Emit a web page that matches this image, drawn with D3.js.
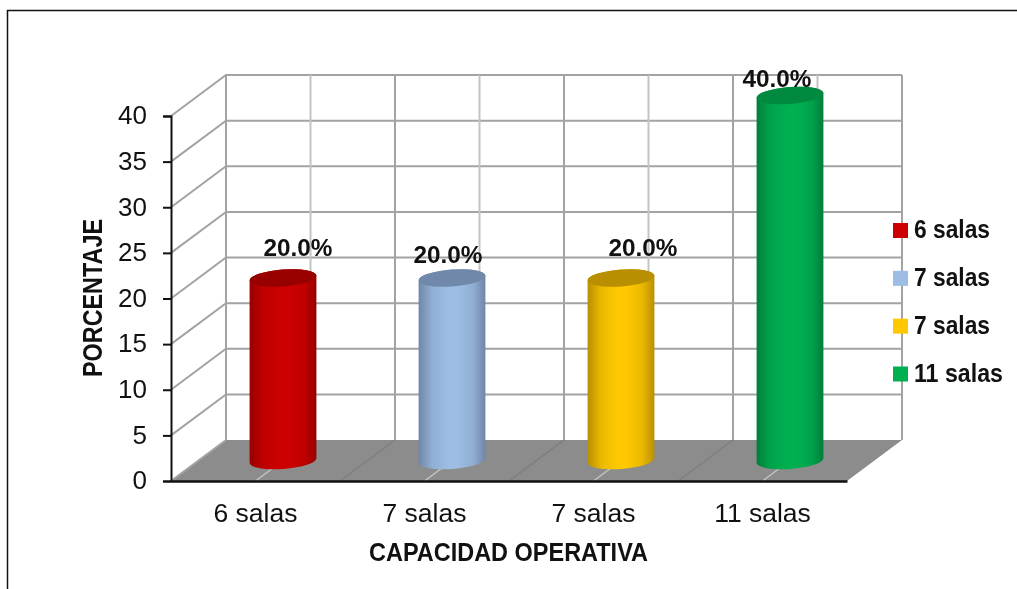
<!DOCTYPE html>
<html>
<head>
<meta charset="utf-8">
<script src="https://cdn.jsdelivr.net/npm/d3@7"></script>
<style>
html,body{margin:0;padding:0;background:#fff;overflow:hidden}
svg{display:block;filter:blur(0.35px)}
text{font-family:"Liberation Sans",Arial,sans-serif;fill:#111}
</style>
</head>
<body>
<svg id="chart" width="1017" height="589"></svg>
<script>
const categories = ["6 salas", "7 salas", "7 salas", "11 salas"];
const values = [20, 20, 20, 40];
const dataLabels = ["20.0%", "20.0%", "20.0%", "40.0%"];
const yTicks = [0, 5, 10, 15, 20, 25, 30, 35, 40];
const baseColors = ["#cc0000", "#9dbde4", "#ffc800", "#00b050"];
const edgeColors = ["#990000", "#6f87a8", "#b88f00", "#007f3a"];
const topColors = ["#980000", "#7088a9", "#b88f00", "#008a40"];
const xTitle = "CAPACIDAD OPERATIVA";
const yTitle = "PORCENTAJE";

const svg = d3.select("#chart");
const ids = categories.map((_, i) => i);
const x = d3.scaleBand().domain(ids).range([171, 847]);
const y = d3.scaleLinear().domain([0, 40]).range([481, 116]);
const depthX = d3.scaleLinear().domain([0, 1]).range([0, 55]);
const depthY = d3.scaleLinear().domain([0, 1]).range([0, -41]);

const gridDark = "#a3a3a3", gridLight = "#c4c4c4";
const g = svg.append("g");

// frame
g.append("path").attr("d", "M7.5,589V10.5H1017").attr("fill", "none").attr("stroke", "#111").attr("stroke-width", 1.5);

// floor
const x0 = x.range()[0], x1 = x.range()[1], dx = depthX(1), dy = depthY(1);
g.append("polygon")
  .attr("points", [[x0, y(0)], [x1, y(0)], [x1 + dx, y(0) + dy], [x0 + dx, y(0) + dy]].join(" "))
  .attr("fill", "#8c8c8c");

// back wall + side wall horizontal grid
g.selectAll("path.h").data(yTicks).join("path").attr("class", "h")
  .attr("d", d => `M${x0},${y(d)}L${x0 + dx},${y(d) + dy}` + (d === 0 ? "" : `L${x1 + dx},${y(d) + dy}`))
  .attr("fill", "none").attr("stroke", gridDark).attr("stroke-width", 2);

// verticals on back wall and floor lines
const bounds = ids.map(i => x(i)).concat([x1]);
g.selectAll("line.mid").data(ids).join("line").attr("class", "mid")
  .attr("x1", i => x(i) + x.bandwidth() / 2 + dx).attr("x2", i => x(i) + x.bandwidth() / 2 + dx)
  .attr("y1", y(40) + dy).attr("y2", y(0) + dy)
  .attr("stroke", gridLight).attr("stroke-width", 2);
g.selectAll("line.maj").data(bounds).join("line").attr("class", "maj")
  .attr("x1", b => b + dx).attr("x2", b => b + dx)
  .attr("y1", y(40) + dy).attr("y2", y(0) + dy)
  .attr("stroke", gridDark).attr("stroke-width", 2);
g.selectAll("line.fmid").data(ids).join("line").attr("class", "fmid")
  .attr("x1", i => x(i) + x.bandwidth() / 2 + dx).attr("x2", i => x(i) + x.bandwidth() / 2)
  .attr("y1", y(0) + dy).attr("y2", y(0))
  .attr("stroke", "#c8c8c8").attr("stroke-width", 1.2);
g.selectAll("line.fmaj").data(bounds.slice(1, 4)).join("line").attr("class", "fmaj")
  .attr("x1", b => b + dx).attr("x2", b => b)
  .attr("y1", y(0) + dy).attr("y2", y(0))
  .attr("stroke", "#7d7d7d").attr("stroke-width", 1.2);

// axes
const yAxis = d3.axisLeft(y).tickValues(yTicks).tickSize(8).tickPadding(16);
const yG = svg.append("g").attr("transform", `translate(${x0},0)`).call(yAxis);
yG.selectAll("line,path").attr("stroke", "#111").attr("stroke-width", 2);
yG.selectAll("text").style("font-size", "26px").attr("fill", "#111").attr("dy", "0.3em");
const xAxis = d3.axisBottom(x).tickFormat(i => categories[i]).tickSize(0).tickPadding(22);
const xG = svg.append("g").attr("transform", `translate(0,${y(0)})`).call(xAxis);
xG.select("path").attr("stroke", "#111").attr("stroke-width", 2.5);
xG.selectAll("text").style("font-size", "26.5px").attr("fill", "#111");

// cylinders
const defs = svg.append("defs");
ids.forEach(i => {
  const gr = defs.append("linearGradient").attr("id", "cyl" + i).attr("x1", 0).attr("x2", 1).attr("y1", 0).attr("y2", 0);
  const mix = d3.interpolateRgb(edgeColors[i], baseColors[i]);
  [[0, edgeColors[i]], [0.2, mix(0.72)], [0.45, baseColors[i]], [0.58, baseColors[i]], [0.82, mix(0.72)], [1, edgeColors[i]]]
    .forEach(([o, c]) => gr.append("stop").attr("offset", o).attr("stop-color", c));
});
const rx = 33.5, ry = 8.4, tilt = -4.3;
const cosT = Math.cos(tilt * Math.PI / 180), sinT = Math.sin(tilt * Math.PI / 180);
const cx = i => x(i) + x.bandwidth() / 2 + depthX(0.5);
const cy = v => y(v) + depthY(0.5);
const bars = svg.append("g").selectAll("g").data(ids).join("g");
bars.append("path").attr("fill", i => `url(#cyl${i})`).attr("d", i => {
  const c = cx(i), t = cy(values[i]), b = cy(0);
  const ax = rx * cosT, ay = rx * sinT;
  return `M${c - ax},${t - ay}L${c - ax},${b - ay}A${rx},${ry},${tilt},0,0,${c + ax},${b + ay}L${c + ax},${t + ay}A${rx},${ry},${tilt},0,0,${c - ax},${t - ay}Z`;
});
bars.append("ellipse").attr("cx", cx).attr("cy", i => cy(values[i])).attr("rx", rx).attr("ry", ry)
  .attr("fill", i => topColors[i])
  .attr("transform", i => `rotate(${tilt},${cx(i)},${cy(values[i])})`);

// data labels (hand-placed in the source chart)
const labelShift = [[15, -31], [-4, -24], [22, -31], [-13, -17]];
svg.append("g").selectAll("text").data(ids).join("text")
  .attr("text-anchor", "middle")
  .attr("x", i => cx(i) + labelShift[i][0])
  .attr("y", i => cy(values[i]) + labelShift[i][1])
  .attr("dy", "0.36em")
  .style("font-size", "24px").style("font-weight", "bold")
  .attr("textLength", 69).attr("lengthAdjust", "spacingAndGlyphs")
  .text(i => dataLabels[i]);

// titles
svg.append("text").attr("x", 508.5).attr("y", 551.5).attr("dy", "0.36em").attr("text-anchor", "middle")
  .style("font-size", "26.5px").style("font-weight", "bold")
  .attr("textLength", 279).attr("lengthAdjust", "spacingAndGlyphs").text(xTitle);
svg.append("text").attr("transform", "translate(92,298) rotate(-90)").attr("dy", "0.36em").attr("text-anchor", "middle")
  .style("font-size", "28px").style("font-weight", "bold")
  .attr("textLength", 158).attr("lengthAdjust", "spacingAndGlyphs").text(yTitle);

// legend
const legY = d3.scalePoint().domain(ids).range([230.5, 374]);
const leg = svg.append("g").selectAll("g").data(ids).join("g").attr("transform", i => `translate(893,${legY(i)})`);
leg.append("rect").attr("x", 0).attr("y", -7.5).attr("width", 15).attr("height", 15).attr("fill", i => baseColors[i]);
leg.append("text").attr("x", 21).attr("dy", "0.3em")
  .style("font-size", "26px").style("font-weight", "bold")
  .attr("textLength", i => categories[i].length > 7 ? 89 : 76).attr("lengthAdjust", "spacingAndGlyphs")
  .text(i => categories[i]);
</script>
</body>
</html>
